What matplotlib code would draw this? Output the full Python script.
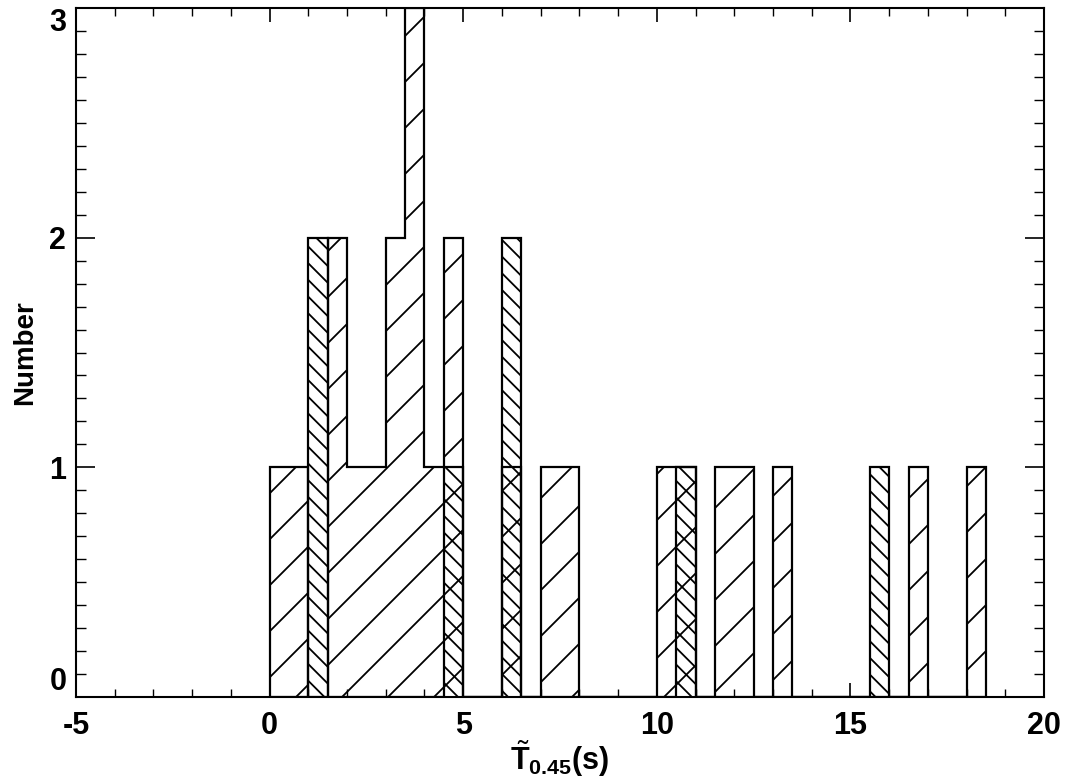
import numpy as np
import matplotlib
matplotlib.use("Agg")
import matplotlib.pyplot as plt
from matplotlib.collections import LineCollection
from matplotlib.ticker import MultipleLocator

plt.rcParams['font.family'] = ['Liberation Sans', 'DejaVu Sans']
plt.rcParams['mathtext.fontset'] = 'custom'
plt.rcParams['mathtext.rm'] = 'Liberation Sans'
plt.rcParams['mathtext.it'] = 'Liberation Sans'
plt.rcParams['mathtext.bf'] = 'Liberation Sans:bold'
plt.rcParams['axes.unicode_minus'] = False

# ---- data (bin width 0.5 s, starting at 0) ----
bin_edges = np.arange(0.0, 18.51, 0.5)
counts_all = [1, 1, 0, 2, 1, 1, 2, 3, 1, 2,
              0, 0, 1, 0, 1, 1, 0, 0, 0, 0,
              1, 1, 0, 1, 1, 0, 1, 0, 0, 0,
              0, 0, 0, 1, 0, 0, 1]
counts_sub = [0, 0, 2, 0, 0, 0, 0, 0, 0, 1,
              0, 0, 2, 0, 0, 0, 0, 0, 0, 0,
              0, 1, 0, 0, 0, 0, 0, 0, 0, 0,
              0, 1, 0, 0, 0, 0, 0]
x_ticks = [-5, 0, 5, 10, 15, 20]
y_ticks = [0, 1, 2, 3]

fig = plt.figure(figsize=(10.66, 7.78), dpi=100)
ax = fig.add_axes([0.0713, 0.1041, 0.9081, 0.8856])
ax.set_xlim(-5, 20)
ax.set_ylim(0, 3)

lw = 1.6

def hatch_lines(slope_sign, offset, spacing):
    # lines in figure inches; slope_sign=+1 for '/', -1 for '\'
    segs = []
    for c in np.arange(offset - 400 * spacing, offset + 400 * spacing, spacing):
        if slope_sign > 0:
            segs.append([(-12, -12 - c), (24, 24 - c)])
        else:
            segs.append([(-12, c + 12), (24, c - 24)])
    return segs

# sparse '/' hatch for full sample
clipA = ax.stairs(counts_all, bin_edges, fill=True, facecolor='none', edgecolor='none')
lcA = LineCollection(hatch_lines(+1, 0.77, 0.46), colors='black', linewidths=1.3,
                     transform=fig.dpi_scale_trans)
ax.add_collection(lcA, autolim=False)
lcA.set_clip_path(clipA)

# dense '\' hatch for sub-sample
clipB = ax.stairs(counts_sub, bin_edges, fill=True, facecolor='none', edgecolor='none')
lcB = LineCollection(hatch_lines(-1, 11.737, 0.167), colors='black', linewidths=1.3,
                     transform=fig.dpi_scale_trans)
ax.add_collection(lcB, autolim=False)
lcB.set_clip_path(clipB)

# outlines
ax.stairs(counts_all, bin_edges, color='black', linewidth=lw)
ax.stairs(counts_sub, bin_edges, color='black', linewidth=lw)

ax.set_xlim(-5, 20)
ax.set_ylim(0, 3)
for s in ax.spines.values():
    s.set_linewidth(1.5)

ax.set_xticks(x_ticks)
ax.set_yticks(y_ticks)
ax.xaxis.set_minor_locator(MultipleLocator(1))
ax.yaxis.set_minor_locator(MultipleLocator(0.1))
ax.tick_params(axis='x', which='major', direction='in', length=10, width=1.2,
               top=True, bottom=True, pad=10)
ax.tick_params(axis='x', which='minor', direction='in', length=5.5, width=1.0,
               top=True, bottom=True)
ax.tick_params(axis='y', which='major', direction='in', length=14, width=1.2,
               left=True, right=True, pad=7)
ax.tick_params(axis='y', which='minor', direction='in', length=7, width=1.0,
               left=True, right=True)
for lab in ax.get_xticklabels() + ax.get_yticklabels():
    lab.set_fontsize(22)
    lab.set_fontweight('bold')
ylabs = ax.get_yticklabels()
ylabs[0].set_va('bottom')
ylabs[-1].set_va('top')

ax.set_ylabel('Number', fontsize=20, fontweight='bold', labelpad=8)
ax.set_xlabel(r'$\tilde{\mathbf{T}}_{\mathbf{0.45}}$(s)', fontsize=22,
              fontweight='bold', labelpad=-2)

fig.savefig('out.png', dpi=100)
